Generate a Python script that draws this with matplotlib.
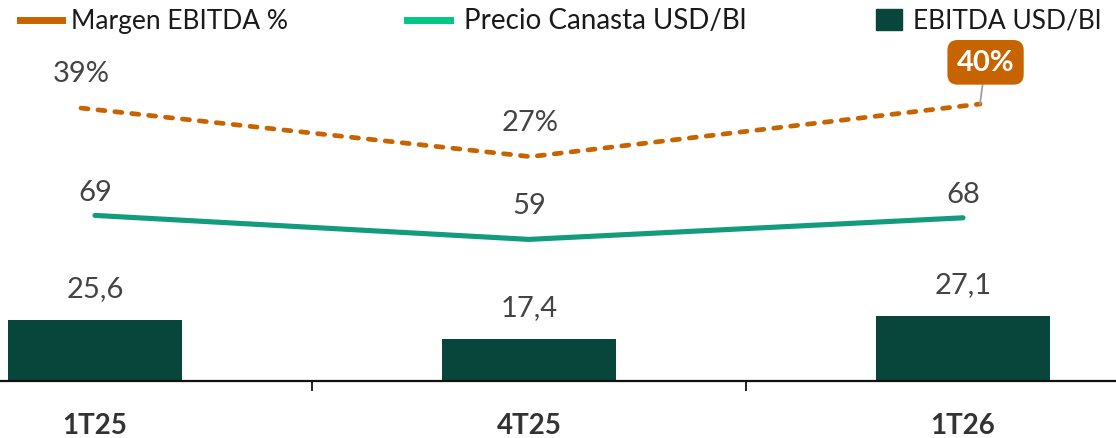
import matplotlib.pyplot as plt
from matplotlib.lines import Line2D
from matplotlib.patches import Rectangle

# --- data ---
periods = ["1T25", "4T25", "1T26"]
ebitda_usd_bl = [25.6, 17.4, 27.1]
precio_canasta = [69, 59, 68]
margen_ebitda = [39, 27, 40]
series_names = ["Margen EBITDA %", "Precio Canasta USD/Bl", "EBITDA USD/Bl"]

# --- style ---
c_bar = "#08453a"
c_price = "#129b7d"
c_price_leg = "#00c781"
c_margin = "#c86400"
c_text = "#444444"

plt.rcParams["font.family"] = ["Lato", "DejaVu Sans"]

W, H = 1116, 439
fig = plt.figure(figsize=(W / 100, H / 100), dpi=100)

axis_y = 382
top_y = 40
pos = [0, (H - axis_y) / H, 1, (axis_y - top_y) / H]

# --- bars + price line (shared y scale) ---
ax = fig.add_axes(pos)
x = list(range(len(periods)))
ax.bar(x, ebitda_usd_bl, width=0.4, color=c_bar, zorder=2)
ax.plot(x, precio_canasta, color=c_price, lw=3.7, solid_capstyle="round",
        solid_joinstyle="round", zorder=3)

ax.set_xlim(-95 / 434, (W - 95) / 434)
ax.set_ylim(0, (axis_y - top_y) / 2.40)

for xi, v in zip(x, ebitda_usd_bl):
    ax.annotate(f"{v:.1f}".replace(".", ","), (xi, v), xytext=(0, 23),
                textcoords="offset points", ha="center", va="center",
                fontsize=21, color=c_text)

price_off = [17, 25, 17]
for xi, v, off in zip(x, precio_canasta, price_off):
    ax.annotate(f"{v}", (xi, v), xytext=(0, off), textcoords="offset points",
                ha="center", va="center", fontsize=21, color=c_text)

for s in ["top", "left", "right"]:
    ax.spines[s].set_visible(False)
ax.spines["bottom"].set_linewidth(1.6)
ax.spines["bottom"].set_color("#111111")
ax.set_yticks([])
ax.set_xticks(x)
ax.set_xticklabels(periods, fontsize=20, fontweight="bold", color="#333333")
ax.tick_params(axis="x", which="major", length=0, pad=22)
ax.set_xticks([0.5, 1.5], minor=True)
ax.tick_params(axis="x", which="minor", length=7, width=1.3, color="#111111")

# --- margin line on its own overlay axes ---
ax2 = fig.add_axes(pos, frameon=False)
ax2.plot(x, margen_ebitda, color=c_margin, lw=3.4, ls=(0, (1.5, 2.1)),
         dash_capstyle="round", zorder=3)
ax2.set_xlim(-81 / 449.5, (W - 81) / 449.5)
ax2.set_ylim(-115 / 4.05, 227 / 4.05)
ax2.set_xticks([])
ax2.set_yticks([])

for xi, v in zip(x[:-1], margen_ebitda[:-1]):
    ax2.annotate(f"{v}%", (xi, v), xytext=(0, 25), textcoords="offset points",
                 ha="center", va="center", fontsize=21, color=c_text)

ax2.annotate(f"{margen_ebitda[-1]}%", (x[-1], margen_ebitda[-1]),
             xytext=(4, 30), textcoords="offset points",
             ha="center", va="center", fontsize=21, fontweight="bold",
             color="white",
             bbox=dict(boxstyle="round,pad=0.32,rounding_size=0.35",
                       fc=c_margin, ec="none"),
             arrowprops=dict(arrowstyle="-", color="#a0a0a0", lw=1.3,
                             shrinkA=0, shrinkB=0))

# --- legend (drawn manually to match spacing) ---
ly = 1 - 21 / H
fig.add_artist(Line2D([20 / W, 62 / W], [ly, ly], color=c_margin, lw=5))
fig.text(71 / W, ly, series_names[0], fontsize=19, color="#1a1a1a", va="center")
fig.add_artist(Line2D([407 / W, 450 / W], [ly, ly], color=c_price_leg, lw=5))
fig.text(464 / W, ly, series_names[1], fontsize=20, color="#1a1a1a", va="center")
fig.add_artist(Rectangle((876 / W, 1 - 31 / H), 26 / W, 21 / H,
                         color=c_bar, transform=fig.transFigure))
fig.text(913 / W, ly, series_names[2], fontsize=19, color="#1a1a1a", va="center")

fig.savefig("out.png", dpi=100)
